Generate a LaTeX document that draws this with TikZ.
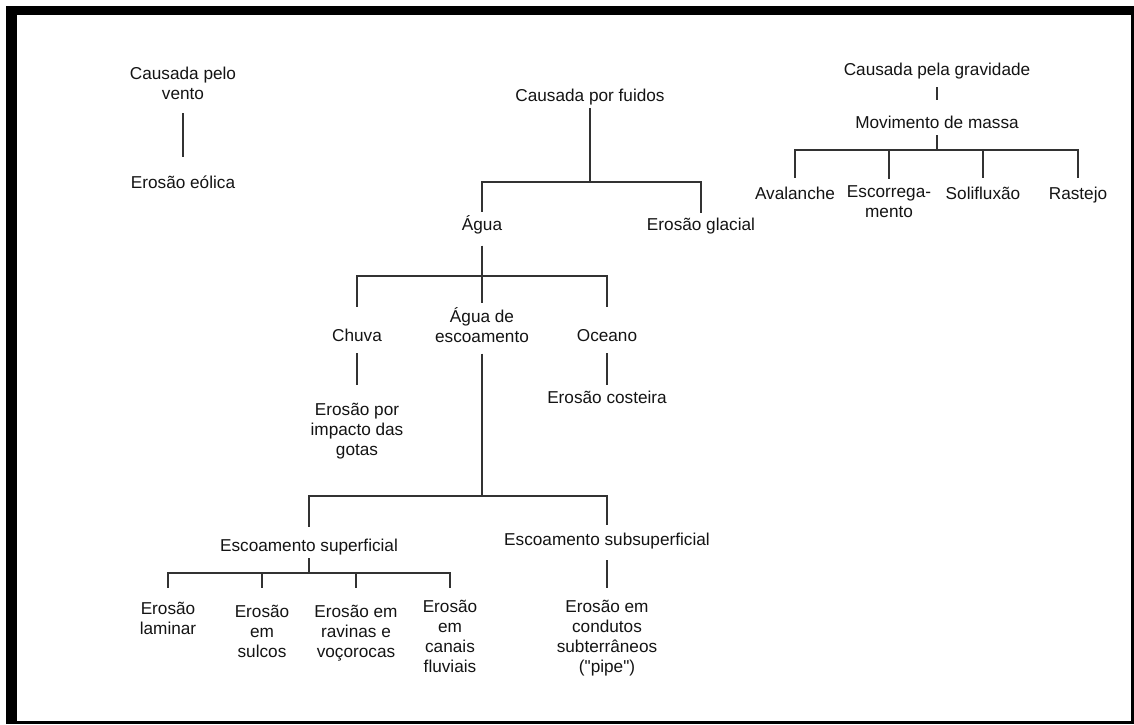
\documentclass[tikz,border=0pt]{standalone}
\usepackage{fontspec}
\setmainfont{Liberation Sans}[Ligatures=TeXOff]
\usetikzlibrary{positioning}
\definecolor{treegray}{RGB}{50,50,50}
\definecolor{inkgray}{RGB}{20,20,20}

\begin{document}
\begin{tikzpicture}[x=0.5pt,y=-0.5pt,
    lbl/.style={align=center,inner sep=0pt,text=inkgray,
        font=\fontsize{8.6}{10}\selectfont,
        execute at begin node=\strut,execute at end node=\strut},
    link/.style={draw=treegray,line width=1pt},
    gaps/.style 2 args={shorten <=#1*0.5pt,shorten >=#2*0.5pt}]
    % Moldura
    \fill[white] (0,0) rectangle (1134,724);
    \fill[black] (6,6) rectangle (1134,724);
    \fill[white] (17,15) rectangle (1131,721);
    \useasboundingbox (0,0) rectangle (1134,724);
    % Vento
    \node[lbl] (vento) at (183,86.5) {Causada pelo\\vento};
    \node[lbl] (eolica) at (183,184) {Erosão eólica};
    \draw[link,gaps={7}{17}] (vento.south) -- (eolica.north);
    % Fluidos
    \node[lbl] (fluidos) at (590,97) {Causada por fuidos};
    \node[lbl] (agua) at (482,226) {Água};
    \node[lbl] (glacial) at (701,226) {Erosão glacial};
    \foreach \c in {agua,glacial}{
        \draw[link,gaps={1}{3}] (fluidos.south) -- ++(0,75) -| (\c.north);
    }
    % Agua
    \node[lbl] (chuva) at (357,337) {Chuva};
    \node[lbl] (escoamento) at (482,328.5) {Água de\\escoamento};
    \node[lbl] (oceano) at (607,337) {Oceano};
    \foreach \c/\g in {chuva/20,escoamento/5,oceano/20}{
        \draw[link,gaps={9}{\g}] (agua.south) -- ++(0,39) -| (\c.north);
    }
    \node[lbl] (gotas) at (357,432) {Erosão por\\impacto das\\gotas};
    \draw[link,gaps={6}{17}] (chuva.south) -- (gotas.north);
    \node[lbl] (costeira) at (607,399) {Erosão costeira};
    \draw[link,gaps={6}{4}] (oceano.south) -- (costeira.north);
    % Agua de escoamento
    \node[lbl] (superficial) at (309,547) {Escoamento superficial};
    \node[lbl] (subsuperficial) at (607,541) {Escoamento subsuperficial};
    \foreach \c/\g in {superficial/10,subsuperficial/6}{
        \draw[link,gaps={4.5}{\g}] (escoamento.south) -- ++(0,146.5) -| (\c.north);
    }
    % Escoamento superficial
    \node[lbl] (laminar) at (168,621) {Erosão\\laminar};
    \node[lbl] (sulcos) at (262,634) {Erosão\\em\\sulcos};
    \node[lbl] (ravinas) at (356,634) {Erosão em\\ravinas e\\voçorocas};
    \node[lbl] (canais) at (450,639) {Erosão\\em\\canais\\fluviais};
    \foreach \c/\g in {laminar/13,sulcos/16,ravinas/16,canais/11}{
        \draw[link,gaps={1}{\g}] (superficial.south) -- ++(0,16) -| (\c.north);
    }
    % Escoamento subsuperficial
    \node[lbl] (condutos) at (607,639)
        {Erosão em\\condutos\\subterrâneos\\("pipe")};
    \draw[link,gaps={9}{11}] (subsuperficial.south) -- (condutos.north);
    % Gravidade
    \node[lbl] (gravidade) at (937,71) {Causada pela gravidade};
    \node[lbl] (massa) at (937,124) {Movimento de massa};
    \draw[link,gaps={6}{14}] (gravidade.south) -- (massa.north);
    \node[lbl] (avalanche) at (795,195) {Avalanche};
    \node[lbl] (escorregamento) at (889,204.5) {Escorrega-\\mento};
    \node[lbl] (solifluxao) at (983,195) {Solifluxão};
    \node[lbl] (rastejo) at (1078,195) {Rastejo};
    \foreach \c/\g in {avalanche/7,escorregamento/6.5,solifluxao/7,rastejo/7}{
        \draw[link,gaps={1}{\g}] (massa.south) -- ++(0,16) -| (\c.north);
    }
\end{tikzpicture}
\end{document}
